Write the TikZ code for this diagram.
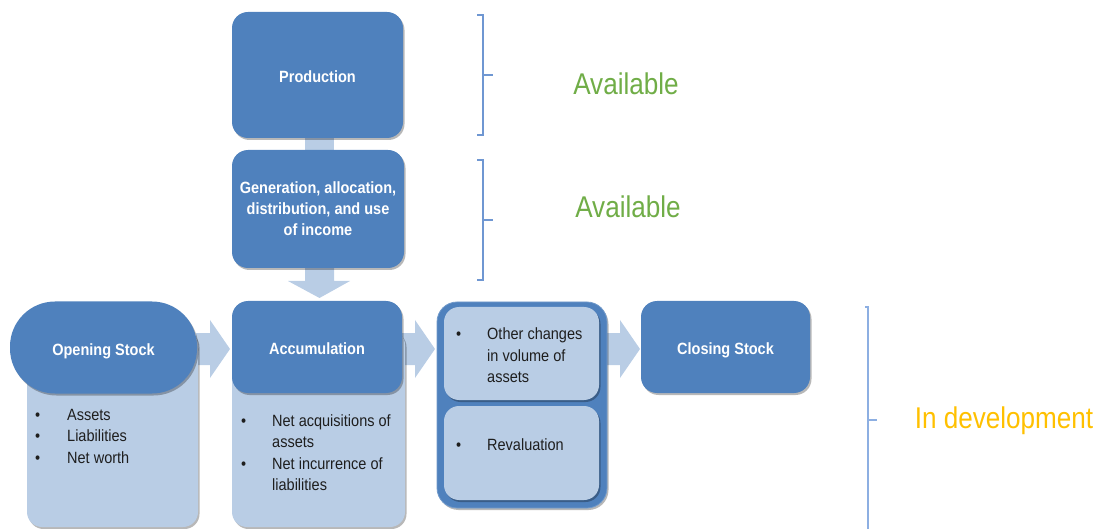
\documentclass[tikz,border=0pt]{standalone}
\usepackage{fontspec}
\setmainfont{Liberation Sans}[FakeStretch=0.89]
\usetikzlibrary{shadows}

\definecolor{boxBlue}{HTML}{4F81BD}
\definecolor{boxLight}{HTML}{B9CDE5}
\definecolor{flowFill}{HTML}{B9CDE5}
\definecolor{braceBlue}{HTML}{6F97D2}
\definecolor{braceLight}{HTML}{8DAFE2}
\definecolor{availGreen}{HTML}{70AD47}
\definecolor{devYellow}{HTML}{FFC000}
\definecolor{bodyInk}{HTML}{1E1E1E}

\newcommand\titlefont{\fontsize{16.3}{21}\selectfont\bfseries}
\newcommand\bodyfont{\fontsize{16.3}{21.5}\selectfont}
\newcommand\statusfont{\fontspec{Liberation Sans}[FakeStretch=0.87]\fontsize{30}{34}\selectfont}

\tikzset{
  boxshadow/.style={drop shadow={shadow xshift=1.5pt, shadow yshift=-2pt, opacity=0.28, fill=black}},
  headbox/.style={fill=boxBlue, rounded corners=16pt, boxshadow, inner sep=0pt,
                  text=white, font=\titlefont, align=center},
  oneline/.style={text height=15pt, text depth=0pt},
  listbox/.style={fill=boxLight, rounded corners=15pt, boxshadow, inner sep=0pt},
  listtext/.style={inner sep=0pt, text=bodyInk, font=\bodyfont, anchor=base west},
  bracepath/.style={draw=braceBlue, line width=1.4pt},
  statustext/.style={anchor=base, inner sep=0pt, font=\statusfont},
  rightflow/.pic={\fill[flowFill] (-14,-16) -- (0,-16) -- (0,-29) -- (20,0) -- (0,29) -- (0,16) -- (-14,16) -- cycle;},
}

\begin{document}
\begin{tikzpicture}[x=1pt, y=-1pt]
\useasboundingbox (0,0) rectangle (1103,529);

% ---- flow arrows (drawn first, boxes cover their tails)
\fill[flowFill] (305,134) rectangle (334,154);
\fill[flowFill] (305,266) -- (334,266) -- (334,281) -- (350,281) -- (319.5,298) -- (288,281) -- (305,281) -- cycle;
\pic at (210,349) {rightflow};
\pic at (415,349) {rightflow};
\pic at (620,349) {rightflow};

% ---- upper column
\node[headbox, oneline, minimum width=171pt, minimum height=126pt] (prod) at (317.5,75) {Production};
\node[headbox, minimum width=172pt, minimum height=118pt] (income) at (318,209)
  {Generation, allocation,\\ distribution, and use\\ of income};

% ---- opening stock
\node[listbox, minimum width=171pt, minimum height=197pt] (openlist) at (112.5,428.5) {};
\node[headbox, oneline, rounded corners=45pt, minimum width=187pt, minimum height=92pt] (open) at (103.5,347.5) {Opening Stock};
\node[listtext] (opentext) at (35,420)
  {\begin{tabular}[t]{@{}p{32pt}@{}l@{}}
   \textbullet & Assets\\
   \textbullet & Liabilities\\
   \textbullet & Net worth
   \end{tabular}};

% ---- accumulation
\node[listbox, minimum width=173pt, minimum height=197pt] (acclist) at (318.5,428.5) {};
\node[headbox, oneline, minimum width=170pt, minimum height=92pt] (acc) at (317,347) {Accumulation};
\node[listtext] (acctext) at (241,426)
  {\begin{tabular}[t]{@{}p{31pt}@{}l@{}}
   \textbullet & Net acquisitions of\\
               & assets\\
   \textbullet & Net incurrence of\\
               & liabilities
   \end{tabular}};

% ---- other changes group
\node[fill=boxBlue, draw=boxBlue!80!white, line width=0.8pt, rounded corners=20pt, boxshadow,
      minimum width=170pt, minimum height=206pt, inner sep=0pt] (other) at (522,405) {};
\node[listbox, minimum width=155pt, minimum height=93pt] (volume) at (521.5,353.5) {};
\node[listbox, minimum width=155pt, minimum height=94pt] (reval) at (521.5,453) {};
\node[listtext] (volumetext) at (456,340)
  {\begin{tabular}[t]{@{}p{31pt}@{}l@{}}
   \textbullet & Other changes\\
   \multicolumn{2}{@{}l@{}}{\hspace*{31pt}in volume of}\\
   \multicolumn{2}{@{}l@{}}{\hspace*{31pt}assets}
   \end{tabular}};
\node[listtext] (revaltext) at (456,450)
  {\begin{tabular}[t]{@{}p{31pt}@{}l@{}}
   \textbullet & Revaluation
   \end{tabular}};

% ---- closing stock
\node[headbox, oneline, minimum width=169pt, minimum height=92pt] (close) at (725.5,347) {Closing Stock};

% ---- status brackets
\draw[bracepath] (477,15) -- (483,15) -- (483,135) -- (477,135);
\draw[bracepath] (483,75) -- (493,75);
\draw[bracepath] (477,160) -- (483,160) -- (483,280) -- (477,280);
\draw[bracepath] (483,220) -- (493,220);
\draw[bracepath, draw=braceLight] (865,307) -- (868,307) -- (868,531);
\draw[bracepath, draw=braceLight] (868,420) -- (877,420);

% ---- status labels
\node[statustext, text=availGreen] (avail1) at (626,95) {Available};
\node[statustext, text=availGreen] (avail2) at (628,218) {Available};
\node[statustext, text=devYellow] (devel) at (1004,428) {In development};
\end{tikzpicture}
\end{document}
